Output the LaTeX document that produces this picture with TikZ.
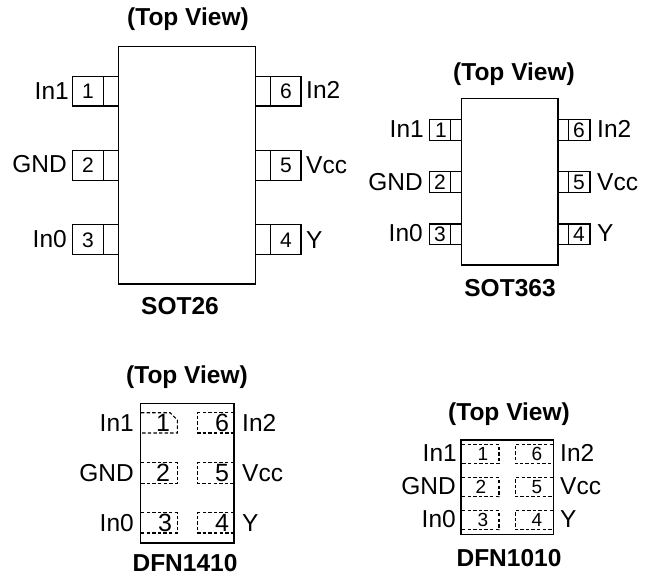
\documentclass[tikz,border=0pt]{standalone}
\usepackage{fontspec}
\setmainfont{Liberation Sans}
\tikzset{
  x=1pt,y=-1pt,
  outline/.style={draw=black,line width=1.2pt},
  pad/.style={draw=black,line width=1.1pt,dash pattern=on 3.4pt off 2.2pt},
  lab/.style={inner sep=0pt,font=\fontsize{24.5}{26}\selectfont},
  num/.style={inner sep=0pt,font=\fontsize{21}{22}\selectfont},
  bignum/.style={inner sep=0pt,font=\fontsize{25}{26}\selectfont},
  smallnum/.style={inner sep=0pt,font=\fontsize{19}{20}\selectfont},
  ttl/.style={inner sep=0pt,font=\fontsize{24.5}{26}\selectfont\bfseries},
}
\begin{document}
\begin{tikzpicture}
\useasboundingbox (0,0) rectangle (650,576);
% SOT26
\draw[outline] (118.3,46.7) rectangle (255.3,284);
\foreach \t/\b in {76.3/106,150.3/180.3,224.7/254.7}{
  \draw[outline] (118.3,\t) -- (72.7,\t) -- (72.7,\b) -- (118.3,\b) (103.3,\t) -- (103.3,\b);
  \draw[outline] (255.3,\t) -- (301,\t) -- (301,\b) -- (255.3,\b) (270.7,\t) -- (270.7,\b);
}
\node[ttl] (t1) at (188,19) {(Top View)};
\node[ttl] (c1) at (180,306) {SOT26};
\node[num] (a1) at (88,91) {1};
\node[num] (a2) at (88,165) {2};
\node[num] (a3) at (88,240) {3};
\node[num] (a4) at (286,240) {4};
\node[num] (a5) at (286,165) {5};
\node[num] (a6) at (286,91) {6};
\node[lab,anchor=east] (l1) at (69,91) {In1};
\node[lab,anchor=east] (l2) at (67,164) {GND};
\node[lab,anchor=east] (l3) at (67,239) {In0};
\node[lab,anchor=west] (l4) at (306,240) {Y};
\node[lab,anchor=west] (l5) at (306,165) {Vcc};
\node[lab,anchor=west] (l6) at (306,90) {In2};
% SOT363
\draw[outline] (461.7,98.3) rectangle (558,265);
\foreach \t/\b in {119.3/140.3,171.7/192.7,224/244.7}{
  \draw[outline] (461.7,\t) -- (429.3,\t) -- (429.3,\b) -- (461.7,\b) (450.3,\t) -- (450.3,\b);
  \draw[outline] (558,\t) -- (590,\t) -- (590,\b) -- (558,\b) (568.7,\t) -- (568.7,\b);
}
\node[ttl] (t2) at (514,74) {(Top View)};
\node[ttl] (c2) at (510,288) {SOT363};
\node[num] (b1) at (441,130) {1};
\node[num] (b2) at (440,182) {2};
\node[num] (b3) at (440,234) {3};
\node[num] (b4) at (579,234) {4};
\node[num] (b5) at (579,182) {5};
\node[num] (b6) at (579,130) {6};
\node[lab,anchor=east] (m1) at (424,129) {In1};
\node[lab,anchor=east] (m2) at (423,182) {GND};
\node[lab,anchor=east] (m3) at (423,233) {In0};
\node[lab,anchor=west] (m4) at (597,233) {Y};
\node[lab,anchor=west] (m5) at (597,182) {Vcc};
\node[lab,anchor=west] (m6) at (597,129) {In2};
% DFN1410
\draw[outline] (140.3,403.3) rectangle (234,543);
\draw[pad] (141,412.7) -- (170,412.7) -- (177.3,420) -- (177.3,433) -- (141,433);
\draw[pad] (141,462.7) -- (177.3,462.7) -- (177.3,483.3) -- (141,483.3);
\draw[pad] (141,512.7) -- (177.3,512.7) -- (177.3,533) -- (141,533);
\foreach \t/\b in {412.7/433,462.7/483.3,512.7/533}{
  \draw[pad] (234,\t) -- (197.7,\t) -- (197.7,\b) -- (234,\b);
}
\node[ttl] (t3) at (187,377) {(Top View)};
\node[ttl] (c3) at (185,563.5) {DFN1410};
\node[bignum] (e1) at (163,423) {1};
\node[bignum] (e2) at (163,473) {2};
\node[bignum] (e3) at (165,523) {3};
\node[bignum] (e4) at (222,523) {4};
\node[bignum] (e5) at (222,473) {5};
\node[bignum] (e6) at (222,423) {6};
\node[lab,anchor=east] (n1) at (134,423) {In1};
\node[lab,anchor=east] (n2) at (134,473) {GND};
\node[lab,anchor=east] (n3) at (134,523) {In0};
\node[lab,anchor=west] (n4) at (242,523) {Y};
\node[lab,anchor=west] (n5) at (242,473) {Vcc};
\node[lab,anchor=west] (n6) at (242,423) {In2};
% DFN1010
\draw[outline] (461,440) rectangle (553.3,534.3);
\foreach \t/\b in {444.3/463.7,477.7/496.7,510.7/529.7}{
  \draw[pad] (462,\t) -- (499,\t) -- (499,\b) -- (462,\b);
  \draw[pad] (553,\t) -- (515.3,\t) -- (515.3,\b) -- (553,\b);
}
\node[ttl] (t4) at (509,414) {(Top View)};
\node[ttl] (c4) at (509,558) {DFN1010};
\node[smallnum] (g1) at (483,454) {1};
\node[smallnum] (g2) at (481,487) {2};
\node[smallnum] (g3) at (483,520) {3};
\node[smallnum] (g4) at (537,520) {4};
\node[smallnum] (g5) at (537,487) {5};
\node[smallnum] (g6) at (537,454) {6};
\node[lab,anchor=east] (p1) at (457,453) {In1};
\node[lab,anchor=east] (p2) at (456,486) {GND};
\node[lab,anchor=east] (p3) at (456,519) {In0};
\node[lab,anchor=west] (p4) at (560,519) {Y};
\node[lab,anchor=west] (p5) at (560,486) {Vcc};
\node[lab,anchor=west] (p6) at (560,453) {In2};
\end{tikzpicture}
\end{document}
